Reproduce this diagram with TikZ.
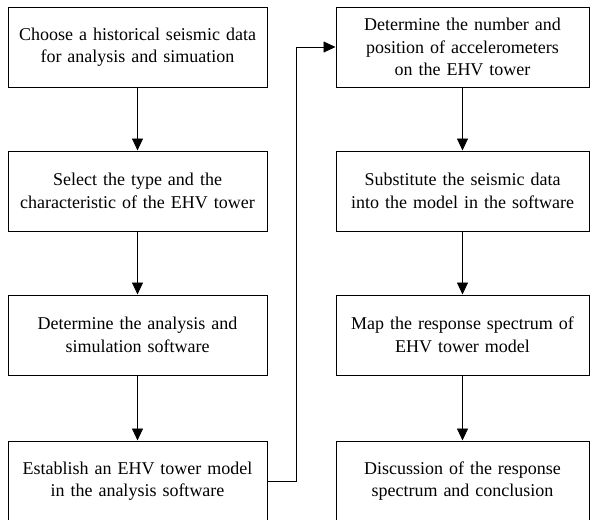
\documentclass[tikz,border=0pt]{standalone}
\usepackage{fontspec}
\setmainfont{Liberation Serif}
\usetikzlibrary{arrows.meta}

\tikzset{
	leftbox/.style={draw, line width=1pt, minimum width=259pt, minimum height=80pt, text width=252pt, align=center, inner sep=0pt, font=\fontsize{18}{22.5}\selectfont},
	rightbox/.style={leftbox, minimum width=253pt, text width=248pt},
	flow/.style={line width=0.8pt, -{Triangle[length=12pt,width=11pt]}}
}

\begin{document}
\begin{tikzpicture}[x=1pt,y=1pt]
		\useasboundingbox (0,0) rectangle (590,-520);
		\clip (0,0) rectangle (590,-520);

		\draw (137.5,-47) node [leftbox] (a) {Choose a historical seismic data\\for analysis and simuation};
		\draw (137.5,-191) node [leftbox] (b) {Select the type and the\\characteristic of the EHV tower};
		\draw (137.5,-335) node [leftbox] (c) {Determine the analysis and\\simulation software};
		\draw (137.5,-481) node [leftbox] (d) {Establish an EHV tower model\\in the analysis software};
		\draw (462.5,-47) node [rightbox] (e) {Determine the number and\\position of accelerometers\\on the EHV tower};
		\draw (462.5,-191) node [rightbox] (f) {Substitute the seismic data\\into the model in the software};
		\draw (462.5,-335) node [rightbox] (g) {Map the response spectrum of\\EHV tower model};
		\draw (462.5,-481) node [rightbox] (h) {Discussion of the response\\spectrum and conclusion};

		\draw [flow] (a) -- (b);
		\draw [flow] (b) -- (c);
		\draw [flow] (c) -- (d);
		\draw [flow] (d.east) -- ++(29,0) |- (e.west);
		\draw [flow] (e) -- (f);
		\draw [flow] (f) -- (g);
		\draw [flow] (g) -- (h);
	\end{tikzpicture}
\end{document}
